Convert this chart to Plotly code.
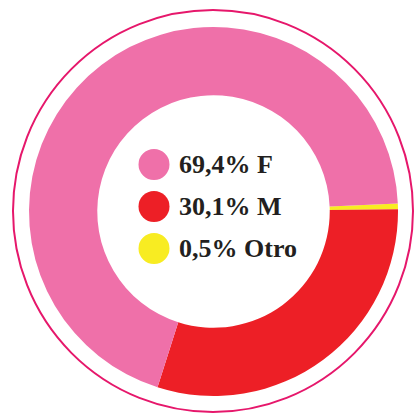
import plotly.graph_objects as go

# Data
labels = ["Otro", "M", "F"]
values = [0.5, 30.1, 69.4]
colors = ["#F8EC22", "#ED1F26", "#EF70A9"]
legend_text = ["69,4% F", "30,1% M", "0,5% Otro"]
legend_colors = ["#EF70A9", "#ED1F26", "#F8EC22"]

W, H = 416, 414

fig = go.Figure()
fig.add_trace(go.Pie(
    labels=labels,
    values=values,
    marker=dict(colors=colors, line=dict(width=0)),
    hole=0.63,
    sort=False,
    direction="clockwise",
    rotation=87.5,
    textinfo="none",
    hoverinfo="skip",
    showlegend=False,
    domain=dict(x=[29 / W, 398 / W], y=[17 / H, 388 / H]),
))

shapes = [
    dict(type="circle", xref="paper", yref="paper",
         x0=13 / W, x1=413 / W, y0=2 / H, y1=404 / H,
         line=dict(color="#E6176B", width=2), fillcolor="rgba(0,0,0,0)")
]
annotations = []
row_y = [164.5, 206.5, 248.5]
for txt, col, yc in zip(legend_text, legend_colors, row_y):
    shapes.append(dict(type="circle", xref="paper", yref="paper",
                       x0=138.5 / W, x1=169.5 / W,
                       y0=(H - yc - 15.5) / H, y1=(H - yc + 15.5) / H,
                       fillcolor=col, line=dict(width=0)))
    annotations.append(dict(text="<b>" + txt + "</b>", xref="paper", yref="paper",
                            x=177 / W, y=(H - yc) / H, xanchor="left", yanchor="middle",
                            showarrow=False,
                            font=dict(family="Liberation Serif", size=26, color="#231F20")))

fig.update_layout(
    width=W, height=H,
    margin=dict(l=0, r=0, t=0, b=0),
    paper_bgcolor="white", plot_bgcolor="white",
    shapes=shapes, annotations=annotations,
    showlegend=False,
)

fig.write_html("out.html", config={"displayModeBar": False},
               post_script="document.body.style.margin='0';document.body.style.overflow='hidden';")
